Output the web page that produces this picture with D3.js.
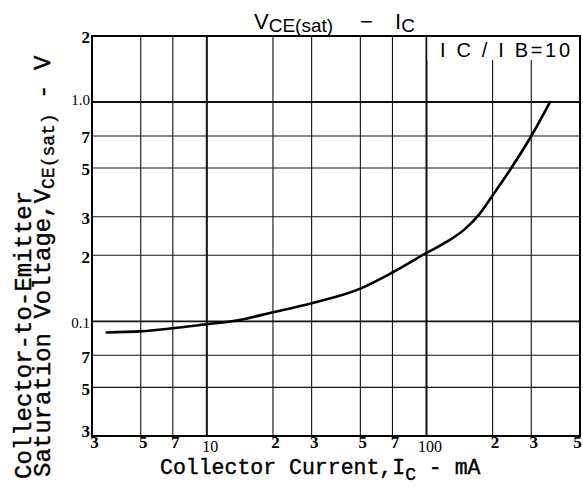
<!DOCTYPE html>
<html>
<head>
<meta charset="utf-8">
<script src="https://cdn.jsdelivr.net/npm/d3@7"></script>
<style>
  html, body { margin: 0; padding: 0; background: #fff; }
  svg { display: block; }
</style>
</head>
<body>
<script>
// ---- data ----
const current = [3.5, 5, 7, 10, 13, 20, 30, 50, 70, 100, 125, 150, 175, 200, 240, 300, 365]; // mA
const vce = [0.089, 0.090, 0.093, 0.097, 0.100, 0.110, 0.121, 0.141, 0.167, 0.205, 0.232, 0.264, 0.31, 0.375, 0.49, 0.70, 1.0]; // V

const xTicks = [3, 5, 7, 10, 20, 30, 50, 70, 100, 200, 300, 500];
const xTickLabels = ["3", "5", "7", "10", "2", "3", "5", "7", "100", "2", "3", "5"];
const yTicks = [0.03, 0.05, 0.07, 0.1, 0.2, 0.3, 0.5, 0.7, 1.0, 2];
const yTickLabels = ["3", "5", "7", "0.1", "2", "3", "5", "7", "1.0", "2"];
const xGrid = [5, 7, 10, 20, 30, 50, 70, 100, 200, 300];
const yGrid = [0.05, 0.07, 0.1, 0.2, 0.3, 0.5, 0.7, 1.0];
const xMajor = [10, 100];
const yMajor = [0.1, 1.0];

// ---- layout ----
const W = 583, H = 486;
const L = 92, R = 580, T = 36, B = 436;

const svg = d3.select("body").append("svg").attr("width", W).attr("height", H);

const x = d3.scaleLog().domain([3, 500]).range([L, R]);
const y = d3.scaleLog().domain([0.03, 2]).range([B, T]);

// grid
svg.append("g").selectAll("line").data(xGrid).join("line")
  .attr("x1", d => x(d)).attr("x2", d => x(d)).attr("y1", T).attr("y2", B)
  .attr("stroke", "#111").attr("stroke-width", d => xMajor.includes(d) ? 2 : 1.1);
svg.append("g").selectAll("line").data(yGrid).join("line")
  .attr("y1", d => y(d)).attr("y2", d => y(d)).attr("x1", L).attr("x2", R)
  .attr("stroke", "#111").attr("stroke-width", d => yMajor.includes(d) ? 1.8 : 1.1);

// legend box background (covers the 200/300 gridlines)
svg.append("rect").attr("x", x(100) + 1).attr("y", T).attr("width", R - x(100) - 1).attr("height", 24)
  .attr("fill", "#fff");
svg.append("text").attr("x", 440).attr("y", 57)
  .attr("font-family", "Liberation Sans, Arial, sans-serif").style("font-size", "20px")
  .attr("textLength", 130).attr("lengthAdjust", "spacing")
  .text("I C / I B=10");

// frame
svg.append("rect").attr("x", L).attr("y", T).attr("width", R - L).attr("height", B - T)
  .attr("fill", "none").attr("stroke", "#000").attr("stroke-width", 2);

// curve
const line = d3.line().x(d => x(d[0])).y(d => y(d[1])).curve(d3.curveMonotoneX);
svg.append("path").datum(current.map((c, i) => [c, vce[i]]))
  .attr("d", line).attr("fill", "none").attr("stroke", "#000").attr("stroke-width", 2.6)
  .attr("stroke-linecap", "round");

// x axis
const xAxis = svg.append("g").attr("transform", `translate(0,${B})`)
  .attr("font-size", null).attr("font-family", null)
  .call(d3.axisBottom(x).tickValues(xTicks).tickSize(0).tickPadding(0)
    .tickFormat((d, i) => xTickLabels[i]));
xAxis.attr("font-size", 17).attr("font-family", "Liberation Serif, serif");
xAxis.select(".domain").remove();
xAxis.selectAll("text")
  .attr("font-size", d => xMajor.includes(d) ? 16 : 17)
  .attr("font-weight", d => xMajor.includes(d) ? "normal" : "bold")
  .attr("fill", "#000")
  .attr("dx", d => xMajor.includes(d) ? 3 : (d === 500 ? -3 : 2))
  .attr("dy", d => xMajor.includes(d) ? "1.0em" : "0.7em");

// y axis
const yAxis = svg.append("g").attr("transform", `translate(${L - 1},0)`)
  .call(d3.axisLeft(y).tickValues(yTicks).tickSize(0).tickPadding(1)
    .tickFormat((d, i) => yTickLabels[i]));
yAxis.attr("font-size", 17).attr("font-family", "Liberation Serif, serif");
yAxis.select(".domain").remove();
yAxis.selectAll("text")
  .attr("font-size", d => yMajor.includes(d) ? 15 : 17)
  .attr("font-weight", d => yMajor.includes(d) ? "normal" : "bold")
  .attr("fill", "#000")
  .attr("dy", d => d === 0.03 ? "0.0em" : (d === 1.0 ? "0.15em" : "0.4em"));

// title
const title = svg.append("text").attr("y", 29)
  .attr("font-family", "Liberation Sans, Arial, sans-serif").attr("font-size", 22).attr("fill", "#000");
title.append("tspan").attr("x", 254).text("V");
title.append("tspan").attr("font-size", 19).attr("dy", 3).text("CE(sat)");
title.append("tspan").attr("x", 360).attr("dy", -3).text("\u2212");
title.append("tspan").attr("x", 395).text("I");
title.append("tspan").attr("font-size", 19).attr("dy", 3).text("C");

// x label
const mono = "Liberation Mono, Courier New, monospace";
const xl = svg.append("text").attr("x", 160).attr("y", 474)
  .attr("font-family", mono).attr("font-size", 21.5).attr("fill", "#000")
  .attr("stroke", "#000").attr("stroke-width", 0.4);
xl.append("tspan").text("Collector Current,I");
xl.append("tspan").attr("font-size", 18).attr("dy", 6).text("C");
xl.append("tspan").attr("dy", -6).attr("xml:space", "preserve").text(" - mA");

// y label
svg.append("text").attr("transform", "translate(31,479) rotate(-90)")
  .attr("font-family", mono).attr("font-size", 24).attr("fill", "#000")
  .attr("stroke", "#000").attr("stroke-width", 0.4)
  .text("Collector-to-Emitter");
const yl2 = svg.append("text").attr("transform", "translate(50,477) rotate(-90)")
  .attr("font-family", mono).attr("font-size", 24).attr("fill", "#000")
  .attr("stroke", "#000").attr("stroke-width", 0.4);
yl2.append("tspan").text("Saturation Voltage,V");
yl2.append("tspan").attr("font-size", 18).attr("dy", 4).text("CE(sat)");
yl2.append("tspan").attr("dy", -4).attr("xml:space", "preserve").text(" - V");
</script>
</body>
</html>
